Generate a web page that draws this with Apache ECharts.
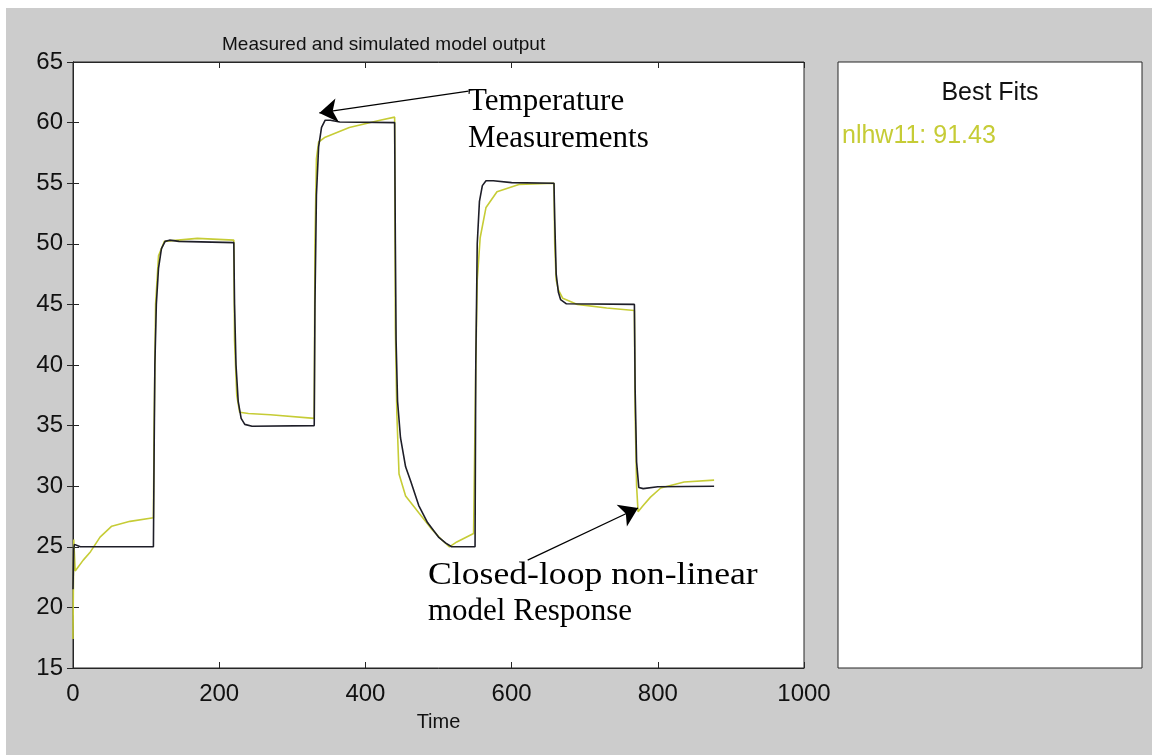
<!DOCTYPE html>
<html>
<head>
<meta charset="utf-8">
<script src="https://cdn.jsdelivr.net/npm/echarts@6/dist/echarts.min.js"></script>
<style>
  html, body { margin: 0; padding: 0; background: #ffffff; }
  #bg { position: absolute; left: 6px; top: 8px; width: 1146px; height: 747px; background: #cccccc; }
  #chart { position: absolute; left: 0; top: 0; width: 1152px; height: 755px; }
</style>
</head>
<body>
<div id="bg"></div>
<div id="chart"></div>
<script>
// ---- data ----
const xTicks = [0, 200, 400, 600, 800, 1000];
const yTicks = [15, 20, 25, 30, 35, 40, 45, 50, 55, 60, 65];

// Measured (black) : time, value
const measuredTime = [0, 1, 2, 4, 10, 110, 111, 112, 114, 117, 121, 126, 132, 145, 220,
  221, 223, 226, 230, 235, 245, 330, 331, 333, 336, 340, 345, 352, 365, 440,
  441, 442, 444, 448, 455, 462, 473, 485, 500, 510, 518, 550,
  551, 553, 556, 560, 565, 575, 600, 658, 659, 661, 664, 667, 675, 768,
  769, 771, 774, 780, 800, 877];
const measuredValue = [21.5, 24.8, 25.2, 25.1, 25.0, 25.0, 33, 40, 45, 48, 49.6, 50.2, 50.3, 50.2, 50.1,
  45, 40, 37, 35.6, 35.1, 34.95, 35.0, 45, 54, 58, 59.6, 60.2, 60.2, 60.05, 60.0,
  50, 42, 37, 34, 31.6, 30.4, 28.4, 27.0, 25.8, 25.3, 25.0, 25.0,
  40, 50, 53.5, 54.8, 55.2, 55.2, 55.05, 55.0, 52, 47.5, 46, 45.4, 45.05, 45.0,
  38, 32, 29.9, 29.8, 29.95, 30.0];

// Simulated nlhw11 (yellow) : time, value
const modelTime = [0, 1, 3, 14, 24, 37, 53, 78, 110,
  111, 113, 117, 125, 170, 220,
  221, 224, 228, 240, 270, 330,
  331, 333, 336, 345, 378, 420, 440,
  441, 443, 446, 455, 473, 490, 504, 515, 525, 548, 550,
  551, 553, 557, 565, 580, 610, 658,
  659, 661, 664, 670, 690, 730, 768,
  769, 771, 773, 780, 790, 804, 836, 877];
const modelValue = [17.4, 25.6, 23.0, 23.9, 24.6, 25.8, 26.7, 27.1, 27.4,
  35, 45, 49, 50.2, 50.45, 50.3,
  42, 37.5, 36.1, 36.0, 35.9, 35.6,
  50, 57, 58.4, 58.8, 59.6, 60.2, 60.45,
  43, 36, 31, 29.2, 27.8, 26.5, 25.6, 25.0, 25.4, 26.1, 26.2,
  40, 47, 50.5, 53, 54.3, 54.9, 55.0,
  50, 47, 46.2, 45.5, 45.0, 44.7, 44.5,
  36, 30, 27.9, 28.4, 29.1, 29.85, 30.35, 30.5];

const bestFitName = 'nlhw11';
const bestFitValue = 91.43;

const measuredPairs = measuredTime.map((t, i) => [t, measuredValue[i]]);
const modelPairs = modelTime.map((t, i) => [t, modelValue[i]]);

const chart = echarts.init(document.getElementById('chart'), null, { renderer: 'canvas' });
const tickFont = { fontFamily: 'Liberation Sans, Arial, sans-serif', fontSize: 24, color: '#111' };
const yellow = '#c6cc36';
const serif = '"Liberation Serif", "Times New Roman", serif';

const option = {
  animation: false,
  backgroundColor: 'transparent',
  grid: { left: 73, top: 62, width: 731, height: 606, show: true, backgroundColor: '#ffffff',
          borderColor: '#262626', borderWidth: 1 },
  xAxis: [{
    type: 'value', min: xTicks[0], max: xTicks[xTicks.length - 1], interval: 200,
    name: 'Time', nameLocation: 'middle', nameGap: 44,
    nameTextStyle: { fontFamily: 'Liberation Sans, Arial, sans-serif', fontSize: 20, color: '#111' },
    axisLine: { show: true, lineStyle: { color: '#262626', width: 1 } },
    axisTick: { show: true, inside: true, length: 6, lineStyle: { color: '#262626' } },
    axisLabel: Object.assign({ margin: 14, formatter: v => String(v) }, tickFont),
    splitLine: { show: false }
  }, {
    type: 'value', min: xTicks[0], max: xTicks[xTicks.length - 1], interval: 200, position: 'top',
    axisLine: { show: true, lineStyle: { color: '#262626', width: 1 } },
    axisTick: { show: true, inside: true, length: 6, lineStyle: { color: '#262626' } },
    axisLabel: { show: false }, splitLine: { show: false }
  }],
  yAxis: [{
    type: 'value', min: yTicks[0], max: yTicks[yTicks.length - 1], interval: 5,
    axisLine: { show: true, lineStyle: { color: '#262626', width: 1 } },
    axisTick: { show: true, inside: true, length: 6, lineStyle: { color: '#262626' } },
    axisLabel: Object.assign({ margin: 10, formatter: v => String(v) }, tickFont),
    splitLine: { show: false }
  }, {
    type: 'value', min: yTicks[0], max: yTicks[yTicks.length - 1], interval: 5, position: 'right',
    axisLine: { show: true, lineStyle: { color: '#262626', width: 1 } },
    axisTick: { show: true, inside: true, length: 6, lineStyle: { color: '#262626' } },
    axisLabel: { show: false }, splitLine: { show: false }
  }],
  series: [{
    name: bestFitName, type: 'line', data: modelPairs, showSymbol: false,
    lineStyle: { color: yellow, width: 1.6 }, z: 2
  }, {
    name: 'Measured', type: 'line', data: measuredPairs, showSymbol: false,
    lineStyle: { color: '#1e1e28', width: 1.6 }, z: 3,
    markLine: {
      silent: true, symbol: ['none', 'arrow'], symbolSize: 18,
      lineStyle: { color: '#000', width: 1.2, type: 'solid' },
      label: { show: false },
      data: [
        [{ coord: [541, 62.6] }, { coord: [337, 60.8] }],
        [{ coord: [622, 23.9] }, { coord: [773, 28.2] }]
      ]
    }
  }],
  graphic: [
    { type: 'text', left: 222, top: 35, style: { text: 'Measured and simulated model output',
      font: '19px "Liberation Sans", Arial, sans-serif', fill: '#111' } },
    { type: 'rect', shape: { x: 838, y: 62, width: 304, height: 606 },
      style: { fill: '#ffffff', stroke: '#262626', lineWidth: 1 } },
    { type: 'text', x: 990, y: 93, style: { text: 'Best Fits', align: 'center', verticalAlign: 'middle',
      font: '25px "Liberation Sans", Arial, sans-serif', fill: '#111' } },
    { type: 'text', x: 842, y: 136, style: { text: bestFitName + ': ' + bestFitValue.toFixed(2),
      verticalAlign: 'middle', font: '25px "Liberation Sans", Arial, sans-serif', fill: yellow } },
    { type: 'text', x: 468, y: 102, style: { text: 'Temperature', verticalAlign: 'middle',
      font: '31px ' + serif, fill: '#000' } },
    { type: 'text', x: 468, y: 139, style: { text: 'Measurements', verticalAlign: 'middle',
      font: '31px ' + serif, fill: '#000' } },
    { type: 'text', x: 428, y: 576, scaleX: 1.15, style: { text: 'Closed-loop non-linear', verticalAlign: 'middle',
      font: '31px ' + serif, fill: '#000' } },
    { type: 'text', x: 428, y: 612, style: { text: 'model Response', verticalAlign: 'middle',
      font: '31px ' + serif, fill: '#000' } }
  ]
};
chart.setOption(option);
</script>
</body>
</html>
